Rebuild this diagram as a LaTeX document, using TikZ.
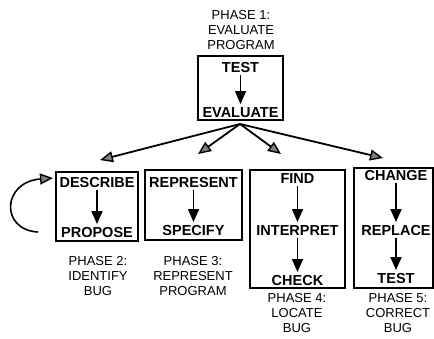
\documentclass[tikz,border=0pt]{standalone}
\usepackage{fontspec}
\setmainfont{Liberation Sans}
\usetikzlibrary{arrows.meta}

\tikzset{
  stepbox/.style={draw, line width=1.3pt, inner sep=0pt},
  stepname/.style={font=\bfseries\fontsize{14.5}{16}\selectfont, text height=10.5pt, text depth=0pt, inner sep=2.5pt},
  phaselabel/.style={font=\fontsize{13}{15}\selectfont, align=center, inner sep=0pt},
  flow/.style={line width=1.6pt, -{Triangle[length=13pt, width=11pt, fill=black]}},
  branch/.style={line width=1.8pt, -{Triangle[length=13pt, width=11pt, fill=black!50, line width=1.4pt]}},
}

\begin{document}
\begin{tikzpicture}[x=1pt, y=-1pt]
\useasboundingbox (0,0) rectangle (434,338);

% Phase 1
\node[phaselabel] (p1) at (241,30) {PHASE 1:\\EVALUATE\\PROGRAM};
\node[stepbox, minimum width=85pt, minimum height=64pt] (box1) at (240.5,88) {};
\node[stepname] (test1) at (240.5,67) {TEST};
\node[stepname] (eval) at (240.5,112) {EVALUATE};
\draw[flow] (test1) -- (eval);

% Phase 2
\node[stepbox, minimum width=82pt, minimum height=69pt] (box2) at (97,206.5) {};
\node[stepname] (describe) at (97,182) {DESCRIBE};
\node[stepname] (propose) at (97,232) {PROPOSE};
\draw[flow] (describe) -- (propose);
\node[phaselabel] (p2) at (98,276) {PHASE 2:\\IDENTIFY\\BUG};

% Phase 3
\node[stepbox, minimum width=97pt, minimum height=70pt] (box3) at (193.5,205) {};
\node[stepname] (represent) at (193.5,182) {REPRESENT};
\node[stepname] (specify) at (193.5,230) {SPECIFY};
\draw[flow] (represent) -- (specify);
\node[phaselabel] (p3) at (193,276) {PHASE 3:\\REPRESENT\\PROGRAM};

% Phase 4
\node[stepbox, minimum width=95pt, minimum height=118pt] (box4) at (297.5,229) {};
\node[stepname] (find) at (297.5,178) {FIND};
\node[stepname] (interpret) at (297.5,230) {INTERPRET};
\node[stepname] (check) at (297.5,280) {CHECK};
\draw[flow] (find) -- (interpret);
\draw[flow] (interpret) -- (check);
\node[phaselabel] (p4) at (297,313) {PHASE 4:\\LOCATE\\BUG};

% Phase 5
\node[stepbox, minimum width=79pt, minimum height=120pt] (box5) at (393.5,228) {};
\node[stepname] (change) at (396,175) {CHANGE};
\node[stepname] (replace) at (396,230) {REPLACE};
\node[stepname] (test5) at (396,278) {TEST};
\draw[flow] (change) -- (replace);
\draw[flow] (replace) -- (test5);
\node[phaselabel] (p5) at (398,313) {PHASE 5:\\CORRECT\\BUG};

% Branches from the evaluation step to each phase
\coordinate (hub) at (240,124);
\coordinate (to2) at (100,160);
\coordinate (to3) at (198,154);
\coordinate (to4) at (281,154);
\coordinate (to5) at (383,158);
\foreach \t in {to2,to3,to4,to5}
  \draw[branch] (hub) -- (\t);

% Loop back into the identify phase
\coordinate (loopstart) at (38,232);
\coordinate (loopend) at (53,178);
\draw[branch, line width=1.6pt] (loopstart) .. controls (0,230) and (2,182) .. (loopend);
\end{tikzpicture}
\end{document}
